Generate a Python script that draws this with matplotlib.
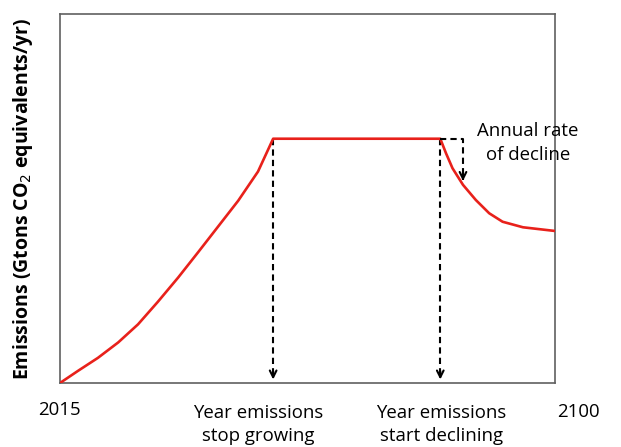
import matplotlib.pyplot as plt

# === DATOS ===
anios_subida = [2015, 2018.1, 2021.5, 2025.0, 2028.4, 2031.8, 2035.3, 2038.7, 2042.1, 2045.6, 2049.0, 2051.6]
emis_subida = [0.0, 0.33, 0.68, 1.10, 1.59, 2.20, 2.86, 3.54, 4.23, 4.94, 5.73, 6.62]

anios_meseta = [2051.6, 2080.3]
emis_meseta = [6.62, 6.62]

anios_bajada = [2080.3, 2081.3, 2082.4, 2084.2, 2086.4, 2088.7, 2091.0, 2094.5, 2100]
emis_bajada = [6.62, 6.22, 5.82, 5.37, 4.96, 4.60, 4.37, 4.22, 4.12]

anio_pico = 2051.6
anio_declive = 2080.3
anio_tasa = 2084.2
emis_tasa = 5.40

W, H = 621, 447

# === FIGURA ===
plt.rcParams['font.family'] = ['Open Sans', 'DejaVu Sans']
fig = plt.figure(figsize=(W / 100, H / 100), dpi=100)
ax = fig.add_axes([60 / W, 1 - 383 / H, 495 / W, 369 / H])
ax.set_xlim(2015, 2100)
ax.set_ylim(0, 10)
ax.set_xticks([])
ax.set_yticks([])
for s in ax.spines.values():
    s.set_color('#606060')
    s.set_linewidth(1.2)

# Curva de emisiones
anios = anios_subida + anios_meseta[1:] + anios_bajada[1:]
emis = emis_subida + emis_meseta[1:] + emis_bajada[1:]
ax.plot(anios, emis, color='#e8211b', lw=1.9, solid_capstyle='round', solid_joinstyle='round', zorder=3)

# Flechas discontinuas
estilo = dict(color='black', lw=1.5, ls=(0, (3, 2)))
punta = dict(arrowstyle='->', color='black', lw=1.5, mutation_scale=12)
for xa in [anio_pico, anio_declive]:
    ax.plot([xa, xa], [emis_meseta[0], 0.15], **estilo, zorder=2)
    ax.annotate('', xy=(xa, 0.02), xytext=(xa, 0.4), arrowprops=punta)

ax.plot([anio_declive, anio_tasa, anio_tasa], [emis_meseta[0], emis_meseta[0], emis_tasa + 0.1], **estilo, zorder=4)
ax.annotate('', xy=(anio_tasa, emis_tasa), xytext=(anio_tasa, emis_tasa + 0.4), arrowprops=punta)

# Textos
def px(x, y):
    return x / W, 1 - y / H

fig.text(*px(528, 143), 'Annual rate\nof decline', ha='center', va='center', fontsize=13.4, linespacing=1.38)
fig.text(*px(59, 410), '2015', ha='center', va='center', fontsize=13.4)
fig.text(*px(578, 412), '2100', ha='center', va='center', fontsize=13.4)
fig.text(*px(258, 404), 'Year emissions\nstop growing', ha='center', va='top', fontsize=13.4, linespacing=1.38)
fig.text(*px(441, 404), 'Year emissions\nstart declining', ha='center', va='top', fontsize=13.4, linespacing=1.38)
fig.text(*px(23, 199), 'Emissions (Gtons CO$_2$ equivalents/yr)', rotation=90, ha='center', va='center',
         fontsize=14, fontweight='bold')

plt.savefig('out.png', dpi=100)
plt.close()
